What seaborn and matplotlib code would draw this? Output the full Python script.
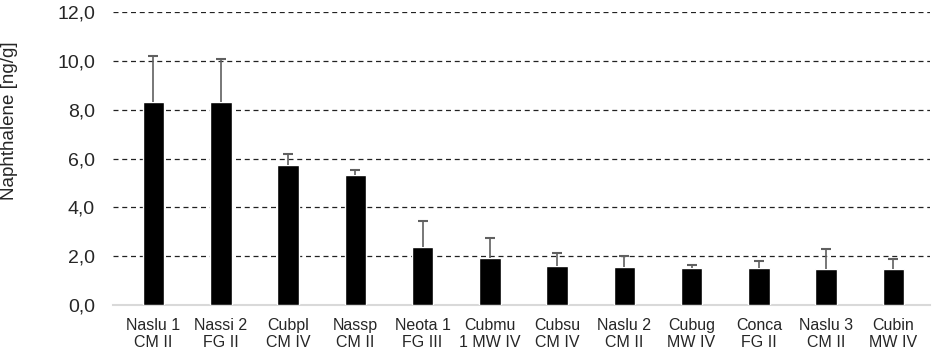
import numpy as np
import pandas as pd
import matplotlib.pyplot as plt
import seaborn as sns
from matplotlib.ticker import FuncFormatter

# species / site labels
labels = ["Naslu 1\nCM II", "Nassi 2\nFG II", "Cubpl\nCM IV", "Nassp\nCM II",
          "Neota 1\nFG III", "Cubmu\n1 MW IV", "Cubsu\nCM IV", "Naslu 2\nCM II",
          "Cubug\nMW IV", "Conca\nFG II", "Naslu 3\nCM II", "Cubin\nMW IV"]
means = [8.32, 8.30, 5.73, 5.32, 2.39, 1.94, 1.61, 1.57, 1.53, 1.52, 1.50, 1.47]
errors = [1.88, 1.76, 0.47, 0.23, 1.06, 0.79, 0.53, 0.43, 0.12, 0.30, 0.80, 0.40]

df = pd.DataFrame({"sample": labels, "value": means})

sns.set_style("white")
plt.rcParams["font.family"] = ["Liberation Sans", "DejaVu Sans"]

fig, ax = plt.subplots(figsize=(9.35, 3.54), dpi=100)
sns.barplot(data=df, x="sample", y="value", color="black", width=0.32,
            errorbar=None, saturation=1, ax=ax, zorder=3)

# upper error bars only (no lower cap)
x = np.arange(len(labels))
tops = np.array(means) + np.array(errors)
ax.vlines(x, means, tops, color="#606060", linewidth=1.2, zorder=4)
ax.plot(x, tops, linestyle="none", marker="_", markersize=7,
        markeredgewidth=1.5, color="#606060", zorder=4)

ax.set_ylim(0, 12)
ax.set_yticks(np.arange(0, 12.1, 2))
ax.yaxis.set_major_formatter(FuncFormatter(lambda v, p: f"{v:.1f}".replace(".", ",")))
ax.yaxis.grid(True, linestyle=(0, (4, 3)), color="#222222", linewidth=0.9, zorder=0)
ax.set_xlim(-0.6, len(labels) - 0.45)

for s in ["top", "right", "left"]:
    ax.spines[s].set_visible(False)
ax.spines["bottom"].set_color("#d9d9d9")
ax.spines["bottom"].set_linewidth(1.5)

ax.tick_params(axis="y", labelsize=14, length=0, pad=13)
ax.tick_params(axis="x", labelsize=11.5, length=0, pad=9)
ax.set_xlabel("")
ax.set_ylabel("Naphthalene [ng/g]", fontsize=13.5)
ax.yaxis.set_label_coords(-0.116, 0.628)

plt.subplots_adjust(left=0.121, right=0.995, top=0.966, bottom=0.138)
plt.savefig("out.png", dpi=100)
